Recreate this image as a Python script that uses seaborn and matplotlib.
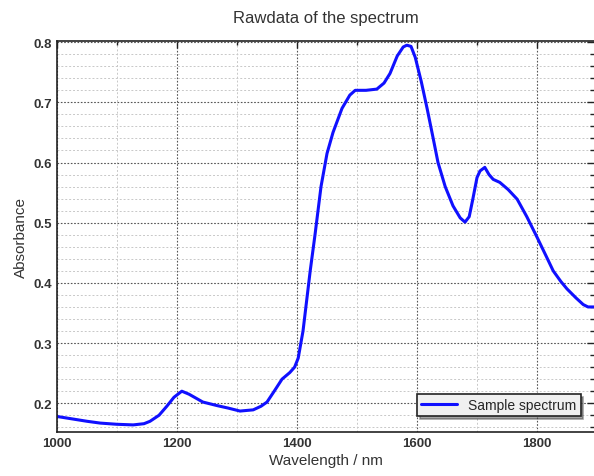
import numpy as np
import pandas as pd
import seaborn as sns
import matplotlib.pyplot as plt
from matplotlib.ticker import MultipleLocator

# values
wavelength = [1000, 1025, 1050, 1072, 1100, 1127, 1145, 1155, 1170, 1183, 1195, 1208, 1220,
              1243, 1267, 1285, 1305, 1327, 1340, 1350, 1362, 1375, 1388, 1396, 1402,
              1410, 1416, 1422, 1430, 1440, 1450, 1460, 1475, 1488, 1497, 1515, 1533,
              1545, 1555, 1567, 1577, 1583, 1590, 1597, 1607, 1617, 1627, 1635, 1647,
              1660, 1672, 1680, 1687, 1693, 1700, 1705, 1713, 1720, 1727, 1738, 1752,
              1767, 1783, 1800, 1815, 1827, 1840, 1850, 1865, 1877, 1885, 1895]
absorbance = [0.178, 0.174, 0.170, 0.167, 0.165, 0.164, 0.166, 0.170, 0.180, 0.195, 0.210, 0.220, 0.215,
              0.202, 0.196, 0.192, 0.187, 0.189, 0.195, 0.202, 0.220, 0.240, 0.251, 0.260, 0.275,
              0.320, 0.370, 0.420, 0.480, 0.560, 0.615, 0.650, 0.690, 0.712, 0.720, 0.720, 0.722,
              0.732, 0.748, 0.777, 0.792, 0.795, 0.793, 0.775, 0.735, 0.689, 0.640, 0.600, 0.560,
              0.528, 0.508, 0.501, 0.510, 0.539, 0.575, 0.586, 0.592, 0.580, 0.572, 0.567, 0.555,
              0.539, 0.510, 0.476, 0.445, 0.420, 0.402, 0.390, 0.375, 0.364, 0.360, 0.360]

df = pd.DataFrame({'Wavelength': wavelength, 'Absorbance': absorbance})

sns.set_style('white')
plt.rcParams['font.family'] = ['Liberation Sans', 'DejaVu Sans']

fig = plt.figure(figsize=(5.94, 4.77), dpi=100)
ax = fig.add_axes([0.096, 0.092, 0.904, 0.82])

sns.lineplot(x='Wavelength', y='Absorbance', data=df, ax=ax, color='#1010ff',
             linewidth=2.2, label='Sample spectrum')

ax.set_xlim(1000, 1895)
ax.set_ylim(0.152, 0.802)
ax.xaxis.set_major_locator(MultipleLocator(200))
ax.xaxis.set_minor_locator(MultipleLocator(100))
ax.yaxis.set_major_locator(MultipleLocator(0.1))
ax.yaxis.set_minor_locator(MultipleLocator(0.02))
ax.yaxis.set_major_formatter(plt.FuncFormatter(lambda v, p: f'{v:.1f}'))

ax.grid(which='major', color='#555555', linestyle=(0, (1.5, 1.5)), linewidth=0.8)
ax.grid(which='minor', color='#c8c8c8', linestyle=(0, (2, 2)), linewidth=0.7)
ax.set_axisbelow(True)

ax.tick_params(which='both', direction='in', top=True, right=True, colors='#222222',
               labelsize=9.5)
ax.tick_params(which='major', length=5, width=1)
ax.tick_params(which='minor', length=3, width=1)
for lbl in ax.get_xticklabels() + ax.get_yticklabels():
    lbl.set_fontweight('bold')
    lbl.set_color('#333333')
for s in ax.spines.values():
    s.set_color('#222222')
    s.set_linewidth(1.2)
ax.spines['right'].set_visible(False)

ax.set_xlabel('Wavelength / nm', fontsize=11, color='#333333', labelpad=3)
ax.set_ylabel('Absorbance', fontsize=11, color='#333333')
ax.set_title('Rawdata of the spectrum', fontsize=12, color='#333333', pad=14)

leg = ax.legend(loc='lower right', bbox_to_anchor=(0.975, 0.04), fancybox=False,
                shadow=True, edgecolor='#222222', framealpha=1, fontsize=10,
                handlelength=2.6, borderpad=0.3, borderaxespad=0)
leg.get_frame().set_facecolor('#f0f0f0')
leg.get_frame().set_linewidth(1.2)

fig.savefig('out.png', dpi=100)
